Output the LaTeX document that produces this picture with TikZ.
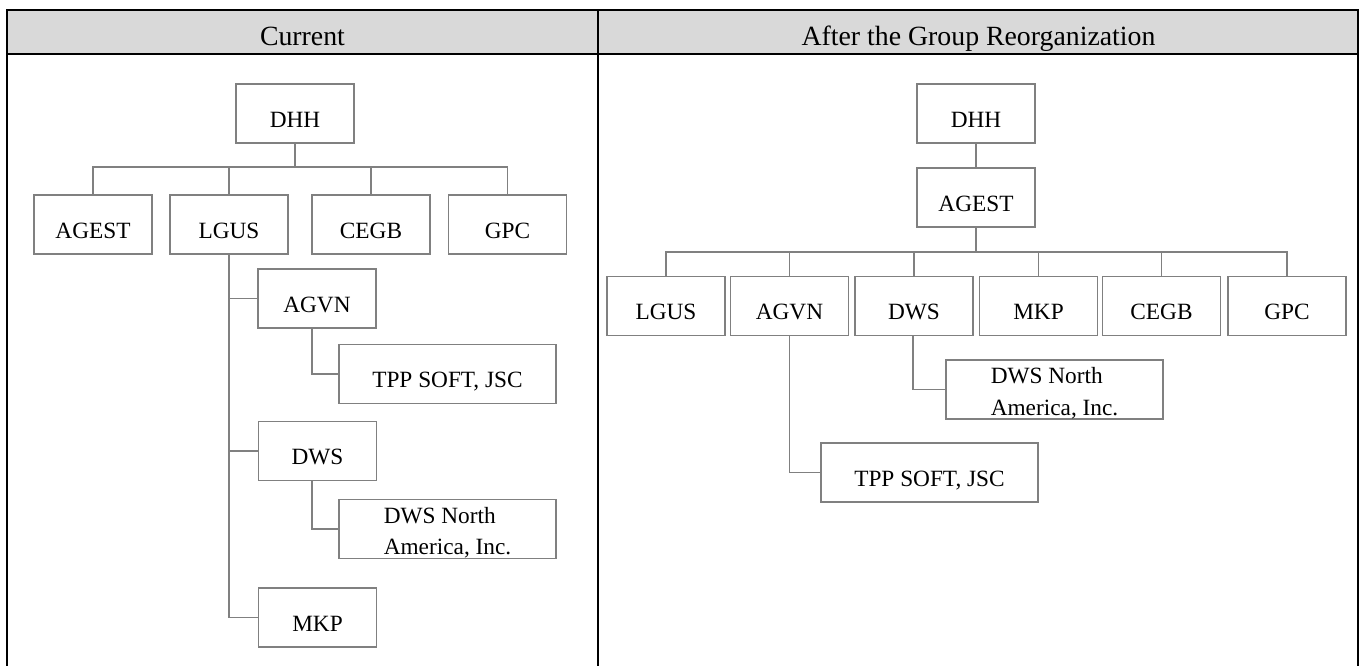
\documentclass[tikz,border=0pt]{standalone}
\usepackage{fontspec}
\setmainfont{Liberation Serif}
\definecolor{boxgray}{HTML}{808080}
\definecolor{headgray}{HTML}{D9D9D9}
\begin{document}
\begin{tikzpicture}[x=1pt,y=-1pt,
  org/.style={draw=boxgray, line width=1.3pt, minimum width=118pt, minimum height=59pt,
              inner sep=0pt, font=\fontsize{23.3}{28}\selectfont},
  one/.style={org, text height=27.5pt, text depth=0pt},
  wide/.style={minimum width=217pt},
  two/.style={inner sep=0pt, align=left, font=\fontsize{23.3}{31.5}\selectfont},
  link/.style={draw=boxgray, line width=1.3pt},
  frame/.style={draw=black, line width=2.2pt},
  head/.style={font=\fontsize{27.8}{32}\selectfont, anchor=base, inner sep=0pt}]
\useasboundingbox (0,0) rectangle (1361,666);
% table
\fill[headgray] (7,10) rectangle (1358,54);
\draw[frame] (7,666) -- (7,10) -- (1358,10) -- (1358,666);
\draw[frame] (7,54) -- (1358,54);
\draw[frame] (598,10) -- (598,666);
\node[head] (hcur) at (302.5,46) {Current};
\node[head] (haft) at (978.5,46) {After the Group Reorganization};

% ---------- left: current ----------
\node[one] (ldhh)  at (295,113.5) {DHH};
\node[one] (lagest) at (93,224.5) {AGEST};
\node[one] (llgus) at (229,224.5) {LGUS};
\node[one] (lcegb) at (371,224.5) {CEGB};
\node[one] (lgpc)  at (507.5,224.5) {GPC};
\coordinate (lbus) at (295,167);
\foreach \c in {lagest,llgus,lcegb,lgpc}
  \draw[link] (ldhh.south) -- (lbus) -| (\c.north);

\node[one] (lagvn) at (317,298.5) {AGVN};
\node[one,wide] (ltpp) at (447.5,374) {TPP SOFT, JSC};
\node[one] (ldws) at (317.5,451) {DWS};
\node[org,wide] (ldwsna) at (447.5,529) {};
\node[two] (ldwsnat) at ([yshift=-3.5pt]ldwsna.center) {DWS North\\America, Inc.};
\node[one] (lmkp) at (317.5,617.5) {MKP};
\foreach \c in {lagvn,ldws,lmkp}
  \draw[link] (llgus.south) |- (\c.west);
\draw[link] ([xshift=-5pt]lagvn.south) |- (ltpp.west);
\draw[link] ([xshift=-5.5pt]ldws.south) |- (ldwsna.west);

% ---------- right: after ----------
\node[one] (rdhh)   at (976,113.5) {DHH};
\node[one] (ragest) at (976,197.5) {AGEST};
\draw[link] (rdhh.south) -- (ragest.north);
\node[one] (rlgus) at (666,306) {LGUS};
\node[one] (ragvn) at (789.5,306) {AGVN};
\node[one] (rdws)  at (914,306) {DWS};
\node[one] (rmkp)  at (1038.5,306) {MKP};
\node[one] (rcegb) at (1161.5,306) {CEGB};
\node[one] (rgpc)  at (1287,306) {GPC};
\coordinate (rbus) at (976,252);
\foreach \c in {rlgus,ragvn,rdws,rmkp,rcegb,rgpc}
  \draw[link] (ragest.south) -- (rbus) -| (\c.north);
\node[org,wide] (rdwsna) at (1054.5,389.5) {};
\node[two] (rdwsnat) at ([yshift=-3.5pt]rdwsna.center) {DWS North\\America, Inc.};
\node[one,wide] (rtpp) at (929.5,472.5) {TPP SOFT, JSC};
\draw[link] ([xshift=-1pt]rdws.south) |- (rdwsna.west);
\draw[link] (ragvn.south) |- (rtpp.west);
\end{tikzpicture}
\end{document}
